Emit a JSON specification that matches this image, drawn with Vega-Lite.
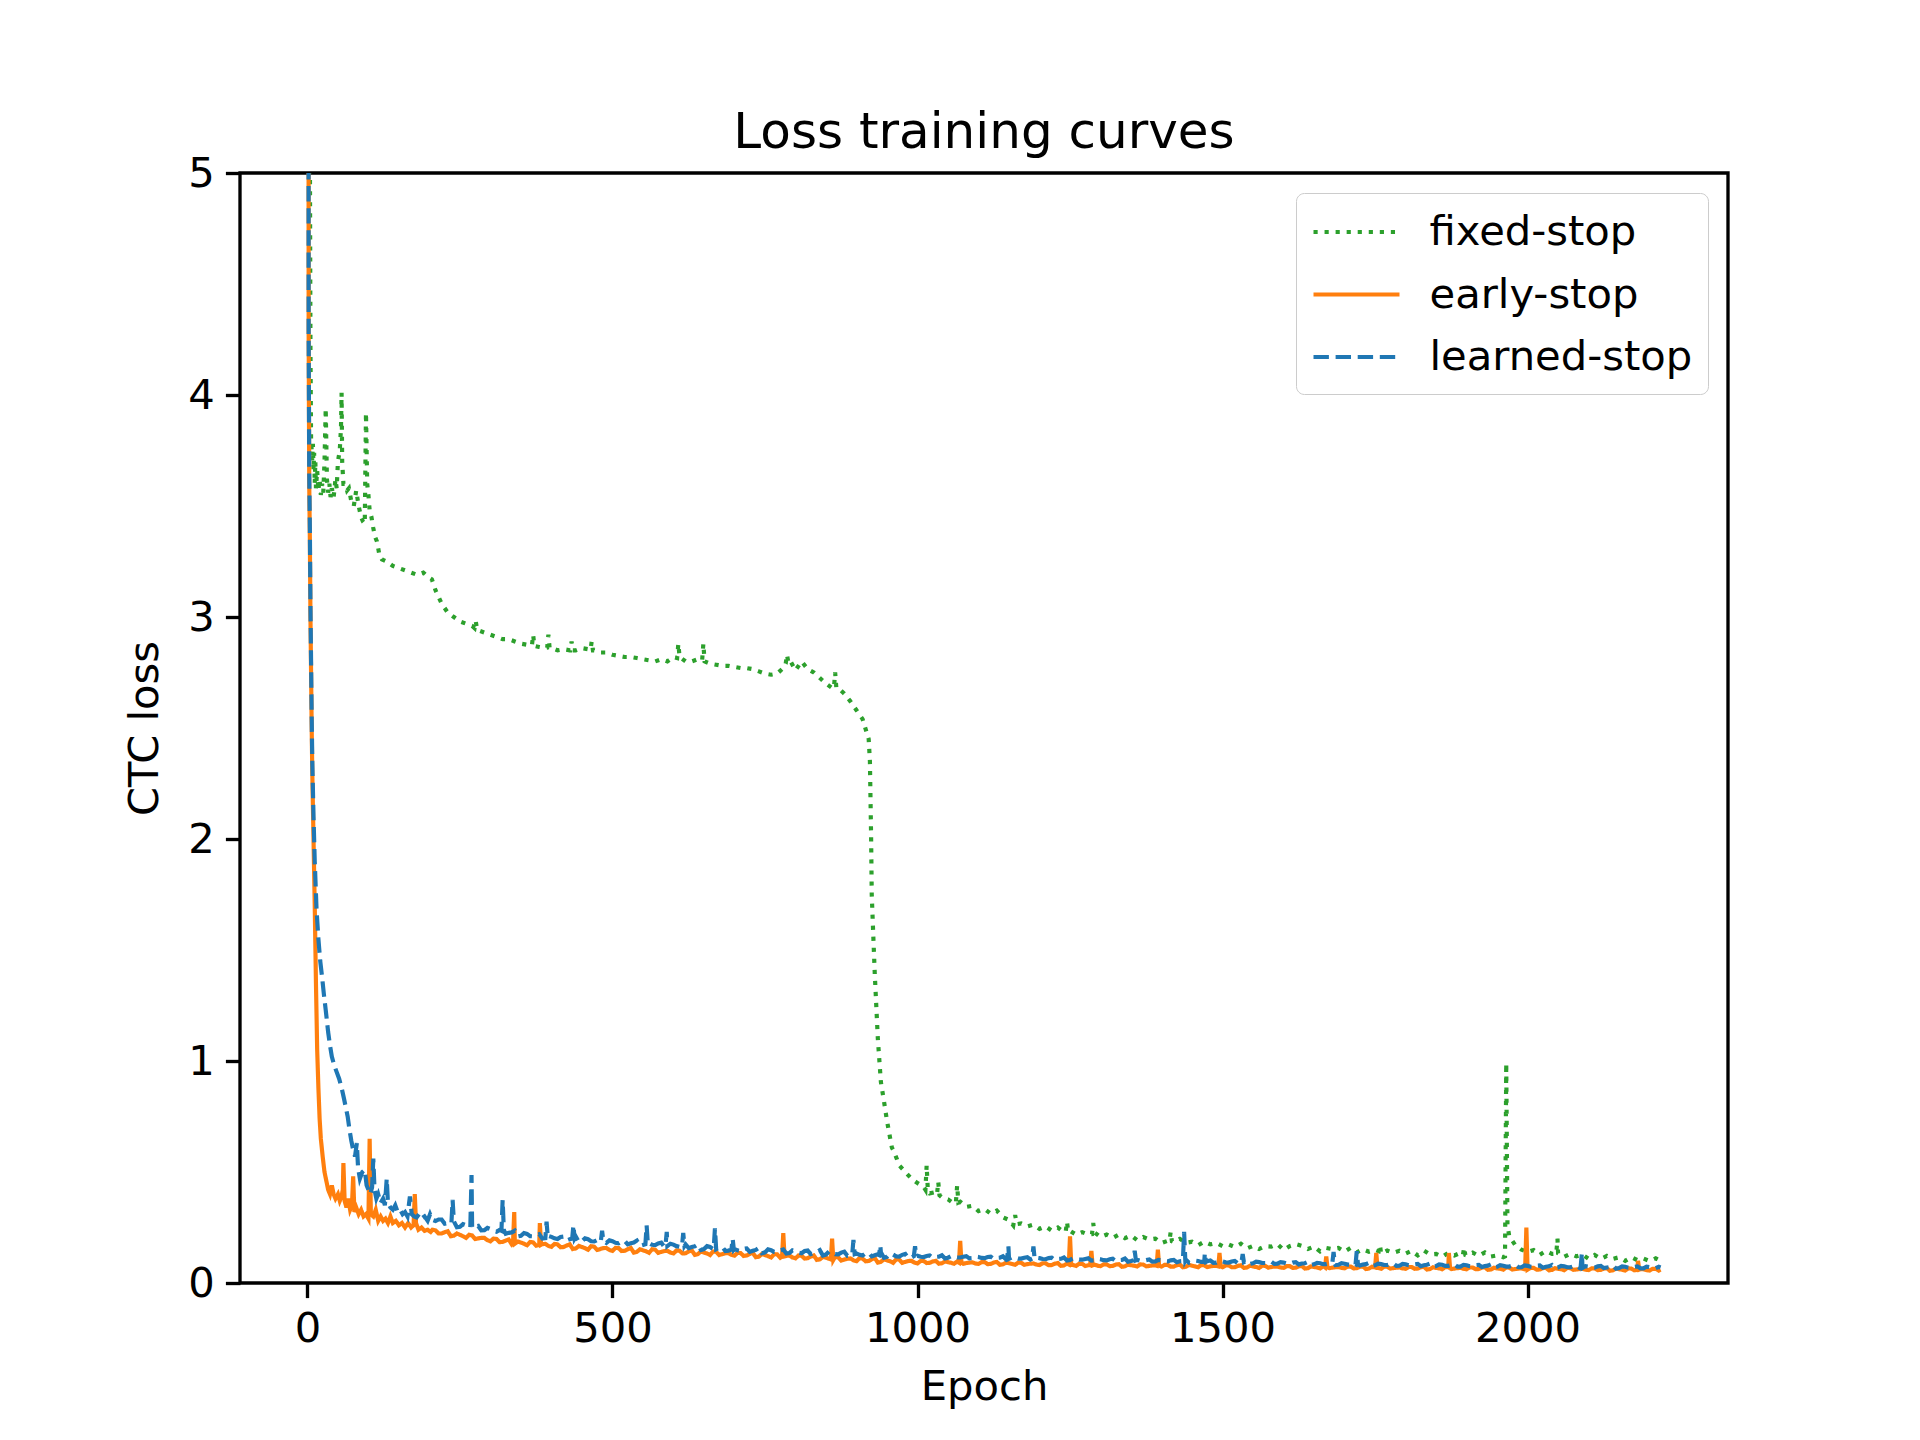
{
"$schema": "https://vega.github.io/schema/vega-lite/v6.json",
"width": 1488, "height": 1110,
"autosize": {"type": "none"},
"padding": {"left": 240, "top": 173, "right": 192, "bottom": 157},
"background": "white",
"title": {"text": "Loss training curves", "fontSize": 50, "font": "DejaVu Sans", "fontWeight": "normal", "color": "black", "anchor": "middle", "frame": "group", "offset": -45, "baseline": "alphabetic"},
"data": {"values": [
{"epoch":1,"fixed-stop":20,"early-stop":14,"learned-stop":14},
{"epoch":2,"fixed-stop":10,"early-stop":4.3,"learned-stop":4.3},
{"epoch":3,"fixed-stop":6.5,"early-stop":3.6,"learned-stop":3.65},
{"epoch":4,"fixed-stop":5.2,"early-stop":3.35,"learned-stop":3.4},
{"epoch":5,"fixed-stop":4.2,"early-stop":3.0,"learned-stop":3.05},
{"epoch":6,"fixed-stop":3.8,"early-stop":2.75,"learned-stop":2.8},
{"epoch":7,"fixed-stop":3.75,"early-stop":2.5,"learned-stop":2.55},
{"epoch":8,"fixed-stop":3.7,"early-stop":2.3,"learned-stop":2.35},
{"epoch":9,"fixed-stop":3.78},
{"epoch":10,"fixed-stop":3.66,"early-stop":2.0,"learned-stop":2.1},
{"epoch":11,"fixed-stop":3.74},
{"epoch":12,"fixed-stop":3.6,"early-stop":1.7,"learned-stop":1.9},
{"epoch":13,"fixed-stop":3.7},
{"epoch":14,"fixed-stop":3.58,"early-stop":1.35},
{"epoch":15,"learned-stop":1.68},
{"epoch":16,"fixed-stop":3.66,"early-stop":1.05},
{"epoch":18,"fixed-stop":3.57,"early-stop":0.88,"learned-stop":1.55},
{"epoch":20,"fixed-stop":3.62,"early-stop":0.74},
{"epoch":21,"learned-stop":1.45},
{"epoch":22,"fixed-stop":3.55,"early-stop":0.65},
{"epoch":24,"fixed-stop":3.6,"learned-stop":1.38},
{"epoch":25,"early-stop":0.57},
{"epoch":26,"fixed-stop":3.56},
{"epoch":27,"learned-stop":1.3},
{"epoch":28,"fixed-stop":3.7,"early-stop":0.5},
{"epoch":30,"fixed-stop":3.94,"learned-stop":1.23},
{"epoch":31,"early-stop":0.46},
{"epoch":32,"fixed-stop":3.62},
{"epoch":34,"fixed-stop":3.56,"early-stop":0.42,"learned-stop":1.13},
{"epoch":36,"fixed-stop":3.6},
{"epoch":37,"early-stop":0.4,"learned-stop":1.07},
{"epoch":38,"fixed-stop":3.54},
{"epoch":40,"fixed-stop":3.58,"early-stop":0.44,"learned-stop":1.02},
{"epoch":43,"fixed-stop":3.54,"early-stop":0.4},
{"epoch":44,"learned-stop":0.98},
{"epoch":46,"fixed-stop":3.62,"early-stop":0.38},
{"epoch":48,"fixed-stop":3.58,"learned-stop":0.95},
{"epoch":50,"fixed-stop":3.7,"early-stop":0.4},
{"epoch":52,"learned-stop":0.92},
{"epoch":53,"fixed-stop":3.75,"early-stop":0.37},
{"epoch":55,"fixed-stop":3.85},
{"epoch":56,"fixed-stop":4.01,"early-stop":0.39,"learned-stop":0.88},
{"epoch":57,"fixed-stop":3.7},
{"epoch":58,"early-stop":0.42},
{"epoch":59,"fixed-stop":3.6,"early-stop":0.54},
{"epoch":60,"learned-stop":0.83},
{"epoch":61,"early-stop":0.37},
{"epoch":62,"fixed-stop":3.6},
{"epoch":63,"learned-stop":0.79},
{"epoch":64,"early-stop":0.34},
{"epoch":65,"fixed-stop":3.57},
{"epoch":66,"learned-stop":0.75},
{"epoch":67,"early-stop":0.38},
{"epoch":68,"fixed-stop":3.58},
{"epoch":69,"learned-stop":0.69},
{"epoch":70,"early-stop":0.33},
{"epoch":72,"fixed-stop":3.52,"learned-stop":0.64},
{"epoch":73,"early-stop":0.35},
{"epoch":75,"early-stop":0.48,"learned-stop":0.6},
{"epoch":76,"fixed-stop":3.5},
{"epoch":77,"early-stop":0.32},
{"epoch":78,"learned-stop":0.57},
{"epoch":80,"fixed-stop":3.57,"early-stop":0.34},
{"epoch":81,"learned-stop":0.63},
{"epoch":83,"learned-stop":0.52},
{"epoch":84,"fixed-stop":3.5,"early-stop":0.31},
{"epoch":86,"learned-stop":0.47},
{"epoch":88,"fixed-stop":3.45,"early-stop":0.33},
{"epoch":90,"learned-stop":0.5},
{"epoch":91,"fixed-stop":3.43},
{"epoch":92,"early-stop":0.3},
{"epoch":94,"fixed-stop":3.42,"learned-stop":0.51},
{"epoch":96,"fixed-stop":3.92,"early-stop":0.31},
{"epoch":97,"learned-stop":0.44},
{"epoch":98,"fixed-stop":3.6},
{"epoch":100,"fixed-stop":3.55,"early-stop":0.29,"learned-stop":0.42},
{"epoch":102,"fixed-stop":3.48,"early-stop":0.65},
{"epoch":103,"learned-stop":0.4},
{"epoch":104,"early-stop":0.31},
{"epoch":105,"fixed-stop":3.45},
{"epoch":106,"learned-stop":0.43},
{"epoch":108,"fixed-stop":3.4,"early-stop":0.3,"learned-stop":0.56},
{"epoch":110,"learned-stop":0.42},
{"epoch":111,"fixed-stop":3.36},
{"epoch":112,"early-stop":0.33},
{"epoch":113,"learned-stop":0.38},
{"epoch":114,"fixed-stop":3.34},
{"epoch":116,"early-stop":0.28,"learned-stop":0.4},
{"epoch":118,"fixed-stop":3.28},
{"epoch":120,"early-stop":0.3,"learned-stop":0.36},
{"epoch":122,"fixed-stop":3.26},
{"epoch":124,"early-stop":0.28,"learned-stop":0.38},
{"epoch":127,"learned-stop":0.35},
{"epoch":128,"early-stop":0.29},
{"epoch":130,"fixed-stop":3.25,"learned-stop":0.47},
{"epoch":132,"early-stop":0.27,"learned-stop":0.36},
{"epoch":136,"early-stop":0.3,"learned-stop":0.34},
{"epoch":140,"fixed-stop":3.23,"early-stop":0.27,"learned-stop":0.33},
{"epoch":144,"learned-stop":0.35},
{"epoch":145,"early-stop":0.28},
{"epoch":148,"learned-stop":0.32},
{"epoch":150,"fixed-stop":3.22,"early-stop":0.26},
{"epoch":152,"learned-stop":0.33},
{"epoch":155,"early-stop":0.27},
{"epoch":156,"learned-stop":0.31},
{"epoch":160,"fixed-stop":3.21,"early-stop":0.25,"learned-stop":0.32},
{"epoch":164,"learned-stop":0.3},
{"epoch":165,"early-stop":0.27},
{"epoch":168,"learned-stop":0.39},
{"epoch":170,"fixed-stop":3.2,"early-stop":0.25},
{"epoch":171,"learned-stop":0.31},
{"epoch":174,"early-stop":0.26},
{"epoch":175,"learned-stop":0.3},
{"epoch":176,"early-stop":0.4},
{"epoch":178,"early-stop":0.27},
{"epoch":179,"learned-stop":0.295},
{"epoch":180,"fixed-stop":3.19},
{"epoch":182,"early-stop":0.24},
{"epoch":183,"learned-stop":0.31},
{"epoch":187,"early-stop":0.25,"learned-stop":0.29},
{"epoch":190,"fixed-stop":3.2},
{"epoch":192,"early-stop":0.235,"learned-stop":0.3},
{"epoch":197,"early-stop":0.24,"learned-stop":0.28},
{"epoch":198,"fixed-stop":3.18},
{"epoch":201,"learned-stop":0.31},
{"epoch":202,"early-stop":0.23},
{"epoch":204,"fixed-stop":3.17},
{"epoch":210,"fixed-stop":3.12,"early-stop":0.237,"learned-stop":0.279},
{"epoch":220,"fixed-stop":3.06,"early-stop":0.223,"learned-stop":0.286},
{"epoch":230,"fixed-stop":3.02,"early-stop":0.233,"learned-stop":0.27},
{"epoch":236,"learned-stop":0.268},
{"epoch":238,"learned-stop":0.374},
{"epoch":240,"fixed-stop":3.0,"early-stop":0.213,"learned-stop":0.278},
{"epoch":250,"fixed-stop":2.98,"early-stop":0.217,"learned-stop":0.253},
{"epoch":260,"fixed-stop":2.97,"early-stop":0.203,"learned-stop":0.26},
{"epoch":267,"learned-stop":0.25},
{"epoch":269,"learned-stop":0.486},
{"epoch":270,"fixed-stop":2.96,"early-stop":0.214,"learned-stop":0.248},
{"epoch":274,"fixed-stop":2.95},
{"epoch":276,"fixed-stop":2.98},
{"epoch":278,"fixed-stop":2.945},
{"epoch":280,"fixed-stop":2.94,"early-stop":0.201,"learned-stop":0.257},
{"epoch":290,"fixed-stop":2.93,"early-stop":0.203,"learned-stop":0.238},
{"epoch":300,"fixed-stop":2.92,"early-stop":0.188,"learned-stop":0.243},
{"epoch":310,"fixed-stop":2.91,"early-stop":0.198,"learned-stop":0.231},
{"epoch":318,"learned-stop":0.235},
{"epoch":320,"fixed-stop":2.9,"early-stop":0.185,"learned-stop":0.374},
{"epoch":322,"learned-stop":0.238},
{"epoch":330,"fixed-stop":2.9,"early-stop":0.196,"learned-stop":0.226},
{"epoch":337,"early-stop":0.18},
{"epoch":339,"early-stop":0.32},
{"epoch":340,"fixed-stop":2.89,"early-stop":0.177,"learned-stop":0.236},
{"epoch":350,"fixed-stop":2.88,"early-stop":0.182,"learned-stop":0.213},
{"epoch":360,"fixed-stop":2.875,"early-stop":0.17,"learned-stop":0.221},
{"epoch":368,"fixed-stop":2.872},
{"epoch":370,"fixed-stop":2.92,"early-stop":0.183,"learned-stop":0.21},
{"epoch":372,"fixed-stop":2.87},
{"epoch":380,"fixed-stop":2.865,"early-stop":0.172,"learned-stop":0.22},
{"epoch":381,"early-stop":0.27},
{"epoch":383,"early-stop":0.172},
{"epoch":390,"fixed-stop":2.86,"early-stop":0.176,"learned-stop":0.202},
{"epoch":392,"learned-stop":0.276},
{"epoch":393,"fixed-stop":2.862},
{"epoch":394,"learned-stop":0.205},
{"epoch":395,"fixed-stop":2.92},
{"epoch":397,"fixed-stop":2.86},
{"epoch":400,"fixed-stop":2.86,"early-stop":0.163,"learned-stop":0.208},
{"epoch":410,"fixed-stop":2.85,"early-stop":0.174,"learned-stop":0.198},
{"epoch":420,"fixed-stop":2.855,"early-stop":0.162,"learned-stop":0.209},
{"epoch":430,"fixed-stop":2.85,"early-stop":0.174,"learned-stop":0.197},
{"epoch":431,"fixed-stop":2.85},
{"epoch":433,"fixed-stop":2.89},
{"epoch":434,"learned-stop":0.2},
{"epoch":435,"fixed-stop":2.85},
{"epoch":436,"learned-stop":0.26},
{"epoch":438,"learned-stop":0.2},
{"epoch":440,"fixed-stop":2.85,"early-stop":0.156,"learned-stop":0.209},
{"epoch":450,"fixed-stop":2.86,"early-stop":0.162,"learned-stop":0.188},
{"epoch":460,"fixed-stop":2.855,"early-stop":0.15,"learned-stop":0.197},
{"epoch":464,"fixed-stop":2.852},
{"epoch":466,"fixed-stop":2.89},
{"epoch":468,"fixed-stop":2.85},
{"epoch":470,"fixed-stop":2.85,"early-stop":0.164,"learned-stop":0.187},
{"epoch":480,"fixed-stop":2.84,"early-stop":0.153,"learned-stop":0.198},
{"epoch":481,"learned-stop":0.19},
{"epoch":483,"learned-stop":0.235},
{"epoch":485,"learned-stop":0.19},
{"epoch":490,"fixed-stop":2.84,"early-stop":0.158,"learned-stop":0.181},
{"epoch":500,"fixed-stop":2.83,"early-stop":0.145,"learned-stop":0.188},
{"epoch":510,"fixed-stop":2.825,"early-stop":0.157,"learned-stop":0.179},
{"epoch":520,"fixed-stop":2.82,"early-stop":0.145,"learned-stop":0.19},
{"epoch":530,"fixed-stop":2.82,"early-stop":0.158,"learned-stop":0.179},
{"epoch":540,"fixed-stop":2.815,"early-stop":0.14,"learned-stop":0.191},
{"epoch":550,"fixed-stop":2.81,"early-stop":0.147,"learned-stop":0.171},
{"epoch":554,"learned-stop":0.175},
{"epoch":556,"learned-stop":0.26},
{"epoch":558,"learned-stop":0.176},
{"epoch":560,"fixed-stop":2.805,"early-stop":0.136,"learned-stop":0.18},
{"epoch":570,"fixed-stop":2.8,"early-stop":0.15,"learned-stop":0.171},
{"epoch":580,"fixed-stop":2.81,"early-stop":0.14,"learned-stop":0.182},
{"epoch":587,"learned-stop":0.172},
{"epoch":589,"learned-stop":0.23},
{"epoch":590,"fixed-stop":2.8,"early-stop":0.145,"learned-stop":0.166},
{"epoch":600,"fixed-stop":2.82,"early-stop":0.133,"learned-stop":0.173},
{"epoch":606,"fixed-stop":2.815},
{"epoch":608,"fixed-stop":2.88},
{"epoch":610,"fixed-stop":2.82,"early-stop":0.145,"learned-stop":0.163},
{"epoch":614,"learned-stop":0.165},
{"epoch":616,"learned-stop":0.225},
{"epoch":618,"learned-stop":0.166},
{"epoch":620,"fixed-stop":2.8,"early-stop":0.134,"learned-stop":0.174},
{"epoch":630,"fixed-stop":2.8,"early-stop":0.147,"learned-stop":0.162},
{"epoch":640,"fixed-stop":2.81,"early-stop":0.13,"learned-stop":0.174},
{"epoch":647,"fixed-stop":2.805},
{"epoch":649,"fixed-stop":2.88},
{"epoch":650,"early-stop":0.137,"learned-stop":0.153},
{"epoch":651,"fixed-stop":2.8},
{"epoch":660,"fixed-stop":2.79,"early-stop":0.126,"learned-stop":0.162},
{"epoch":666,"learned-stop":0.157},
{"epoch":668,"learned-stop":0.246},
{"epoch":670,"fixed-stop":2.785,"early-stop":0.14,"learned-stop":0.152},
{"epoch":680,"fixed-stop":2.78,"early-stop":0.13,"learned-stop":0.163},
{"epoch":690,"fixed-stop":2.78,"early-stop":0.135,"learned-stop":0.146},
{"epoch":695,"learned-stop":0.15},
{"epoch":697,"learned-stop":0.2},
{"epoch":699,"learned-stop":0.15},
{"epoch":700,"fixed-stop":2.775,"early-stop":0.123,"learned-stop":0.153},
{"epoch":710,"fixed-stop":2.77,"early-stop":0.135,"learned-stop":0.144},
{"epoch":720,"fixed-stop":2.77,"early-stop":0.124,"learned-stop":0.156},
{"epoch":730,"fixed-stop":2.765,"early-stop":0.136,"learned-stop":0.145},
{"epoch":740,"fixed-stop":2.755,"early-stop":0.119,"learned-stop":0.158},
{"epoch":750,"fixed-stop":2.745,"early-stop":0.126,"learned-stop":0.138},
{"epoch":760,"fixed-stop":2.74,"early-stop":0.115,"learned-stop":0.148},
{"epoch":770,"fixed-stop":2.745,"early-stop":0.129,"learned-stop":0.139},
{"epoch":778,"early-stop":0.12},
{"epoch":780,"fixed-stop":2.77,"early-stop":0.225,"learned-stop":0.151},
{"epoch":782,"early-stop":0.12},
{"epoch":784,"fixed-stop":2.79},
{"epoch":786,"fixed-stop":2.83},
{"epoch":788,"fixed-stop":2.8},
{"epoch":790,"fixed-stop":2.81,"early-stop":0.124,"learned-stop":0.135},
{"epoch":800,"fixed-stop":2.76,"early-stop":0.111,"learned-stop":0.143},
{"epoch":810,"fixed-stop":2.8,"early-stop":0.123,"learned-stop":0.134},
{"epoch":820,"fixed-stop":2.765,"early-stop":0.112,"learned-stop":0.146},
{"epoch":830,"fixed-stop":2.75,"early-stop":0.124,"learned-stop":0.135},
{"epoch":840,"fixed-stop":2.725,"early-stop":0.107,"learned-stop":0.148},
{"epoch":850,"fixed-stop":2.7,"early-stop":0.114,"learned-stop":0.128},
{"epoch":858,"early-stop":0.106},
{"epoch":860,"fixed-stop":2.68,"early-stop":0.2,"learned-stop":0.138},
{"epoch":862,"early-stop":0.104},
{"epoch":863,"fixed-stop":2.68},
{"epoch":865,"fixed-stop":2.75},
{"epoch":867,"fixed-stop":2.68},
{"epoch":870,"fixed-stop":2.68,"early-stop":0.116,"learned-stop":0.129},
{"epoch":880,"fixed-stop":2.655,"early-stop":0.106,"learned-stop":0.141},
{"epoch":890,"fixed-stop":2.62,"early-stop":0.111,"learned-stop":0.125},
{"epoch":893,"learned-stop":0.128},
{"epoch":895,"learned-stop":0.194},
{"epoch":897,"learned-stop":0.13},
{"epoch":900,"fixed-stop":2.58,"early-stop":0.098,"learned-stop":0.133},
{"epoch":910,"fixed-stop":2.54,"early-stop":0.11,"learned-stop":0.124},
{"epoch":920,"fixed-stop":2.45,"early-stop":0.099,"learned-stop":0.136},
{"epoch":922,"fixed-stop":2.35},
{"epoch":924,"fixed-stop":2.0},
{"epoch":925,"fixed-stop":1.75},
{"epoch":928,"fixed-stop":1.53},
{"epoch":930,"fixed-stop":1.39,"early-stop":0.112,"learned-stop":0.125},
{"epoch":935,"fixed-stop":1.1},
{"epoch":937,"learned-stop":0.126},
{"epoch":939,"learned-stop":0.17},
{"epoch":940,"fixed-stop":0.905,"early-stop":0.095,"learned-stop":0.138},
{"epoch":945,"fixed-stop":0.82},
{"epoch":950,"fixed-stop":0.73,"early-stop":0.102,"learned-stop":0.118},
{"epoch":958,"fixed-stop":0.61},
{"epoch":960,"fixed-stop":0.6,"early-stop":0.091,"learned-stop":0.128},
{"epoch":966,"fixed-stop":0.56},
{"epoch":970,"fixed-stop":0.53,"early-stop":0.105,"learned-stop":0.119},
{"epoch":980,"fixed-stop":0.5,"early-stop":0.095,"learned-stop":0.131},
{"epoch":990,"fixed-stop":0.47,"early-stop":0.1,"learned-stop":0.115},
{"epoch":994,"learned-stop":0.121},
{"epoch":996,"learned-stop":0.165},
{"epoch":998,"learned-stop":0.12},
{"epoch":1000,"fixed-stop":0.45,"early-stop":0.088,"learned-stop":0.123},
{"epoch":1010,"fixed-stop":0.433,"early-stop":0.099,"learned-stop":0.117},
{"epoch":1013,"fixed-stop":0.42},
{"epoch":1015,"fixed-stop":0.53},
{"epoch":1017,"fixed-stop":0.415},
{"epoch":1020,"fixed-stop":0.404,"early-stop":0.091,"learned-stop":0.124},
{"epoch":1030,"fixed-stop":0.41,"early-stop":0.1,"learned-stop":0.118},
{"epoch":1032,"fixed-stop":0.4},
{"epoch":1034,"fixed-stop":0.456},
{"epoch":1036,"fixed-stop":0.395},
{"epoch":1040,"fixed-stop":0.386,"early-stop":0.089,"learned-stop":0.125},
{"epoch":1050,"fixed-stop":0.377,"early-stop":0.094,"learned-stop":0.114},
{"epoch":1060,"fixed-stop":0.357,"early-stop":0.087,"learned-stop":0.119},
{"epoch":1063,"fixed-stop":0.365},
{"epoch":1065,"fixed-stop":0.44},
{"epoch":1067,"fixed-stop":0.362},
{"epoch":1068,"early-stop":0.092},
{"epoch":1070,"fixed-stop":0.366,"early-stop":0.19,"learned-stop":0.115},
{"epoch":1072,"early-stop":0.092},
{"epoch":1080,"fixed-stop":0.343,"early-stop":0.09,"learned-stop":0.121},
{"epoch":1090,"fixed-stop":0.348,"early-stop":0.093,"learned-stop":0.112},
{"epoch":1100,"fixed-stop":0.324,"early-stop":0.086,"learned-stop":0.117},
{"epoch":1110,"fixed-stop":0.333,"early-stop":0.094,"learned-stop":0.112},
{"epoch":1120,"fixed-stop":0.312,"early-stop":0.086,"learned-stop":0.119},
{"epoch":1130,"fixed-stop":0.326,"early-stop":0.095,"learned-stop":0.113},
{"epoch":1140,"fixed-stop":0.296,"early-stop":0.084,"learned-stop":0.12},
{"epoch":1147,"learned-stop":0.113},
{"epoch":1149,"learned-stop":0.165},
{"epoch":1150,"fixed-stop":0.284,"early-stop":0.089,"learned-stop":0.109},
{"epoch":1157,"fixed-stop":0.26},
{"epoch":1160,"fixed-stop":0.306,"early-stop":0.082,"learned-stop":0.114},
{"epoch":1163,"fixed-stop":0.265},
{"epoch":1170,"fixed-stop":0.268,"early-stop":0.091,"learned-stop":0.11},
{"epoch":1180,"fixed-stop":0.255,"early-stop":0.085,"learned-stop":0.116},
{"epoch":1188,"learned-stop":0.11},
{"epoch":1190,"fixed-stop":0.263,"early-stop":0.088,"learned-stop":0.165},
{"epoch":1192,"learned-stop":0.109},
{"epoch":1200,"fixed-stop":0.244,"early-stop":0.081,"learned-stop":0.112},
{"epoch":1210,"fixed-stop":0.255,"early-stop":0.089,"learned-stop":0.107},
{"epoch":1220,"fixed-stop":0.236,"early-stop":0.081,"learned-stop":0.114},
{"epoch":1230,"fixed-stop":0.25,"early-stop":0.09,"learned-stop":0.108},
{"epoch":1240,"fixed-stop":0.229,"early-stop":0.079,"learned-stop":0.115},
{"epoch":1243,"fixed-stop":0.232},
{"epoch":1245,"fixed-stop":0.276},
{"epoch":1247,"fixed-stop":0.232},
{"epoch":1248,"early-stop":0.083},
{"epoch":1250,"fixed-stop":0.235,"early-stop":0.21,"learned-stop":0.104},
{"epoch":1252,"early-stop":0.082},
{"epoch":1260,"fixed-stop":0.218,"early-stop":0.077,"learned-stop":0.109},
{"epoch":1270,"fixed-stop":0.229,"early-stop":0.086,"learned-stop":0.105},
{"epoch":1280,"fixed-stop":0.218,"early-stop":0.08,"learned-stop":0.111},
{"epoch":1283,"early-stop":0.08},
{"epoch":1285,"early-stop":0.145},
{"epoch":1286,"fixed-stop":0.22},
{"epoch":1287,"early-stop":0.08},
{"epoch":1288,"fixed-stop":0.27},
{"epoch":1290,"fixed-stop":0.228,"early-stop":0.083,"learned-stop":0.102},
{"epoch":1300,"fixed-stop":0.207,"early-stop":0.076,"learned-stop":0.107},
{"epoch":1310,"fixed-stop":0.218,"early-stop":0.084,"learned-stop":0.102},
{"epoch":1320,"fixed-stop":0.203,"early-stop":0.077,"learned-stop":0.109},
{"epoch":1330,"fixed-stop":0.218,"early-stop":0.085,"learned-stop":0.103},
{"epoch":1340,"fixed-stop":0.202,"early-stop":0.075,"learned-stop":0.11},
{"epoch":1350,"fixed-stop":0.214,"early-stop":0.08,"learned-stop":0.099},
{"epoch":1354,"learned-stop":0.102},
{"epoch":1356,"learned-stop":0.145},
{"epoch":1358,"learned-stop":0.102},
{"epoch":1360,"fixed-stop":0.193,"early-stop":0.074,"learned-stop":0.104},
{"epoch":1370,"fixed-stop":0.207,"early-stop":0.083,"learned-stop":0.1},
{"epoch":1380,"fixed-stop":0.196,"early-stop":0.077,"learned-stop":0.106},
{"epoch":1390,"fixed-stop":0.2,"early-stop":0.08,"learned-stop":0.097},
{"epoch":1392,"early-stop":0.078},
{"epoch":1394,"early-stop":0.15},
{"epoch":1396,"early-stop":0.078},
{"epoch":1400,"fixed-stop":0.18,"early-stop":0.074,"learned-stop":0.102},
{"epoch":1410,"fixed-stop":0.19,"early-stop":0.082,"learned-stop":0.097},
{"epoch":1413,"fixed-stop":0.19},
{"epoch":1415,"fixed-stop":0.23},
{"epoch":1417,"fixed-stop":0.188},
{"epoch":1420,"fixed-stop":0.184,"early-stop":0.074,"learned-stop":0.104},
{"epoch":1430,"fixed-stop":0.199,"early-stop":0.083,"learned-stop":0.098},
{"epoch":1435,"learned-stop":0.099},
{"epoch":1437,"learned-stop":0.23},
{"epoch":1439,"learned-stop":0.1},
{"epoch":1440,"fixed-stop":0.181,"early-stop":0.073,"learned-stop":0.105},
{"epoch":1450,"fixed-stop":0.186,"early-stop":0.078,"learned-stop":0.094},
{"epoch":1460,"fixed-stop":0.17,"early-stop":0.071,"learned-stop":0.099},
{"epoch":1470,"fixed-stop":0.186,"early-stop":0.08,"learned-stop":0.095},
{"epoch":1471,"learned-stop":0.135},
{"epoch":1473,"learned-stop":0.095},
{"epoch":1480,"fixed-stop":0.174,"early-stop":0.075,"learned-stop":0.101},
{"epoch":1490,"fixed-stop":0.18,"early-stop":0.077,"learned-stop":0.092},
{"epoch":1493,"early-stop":0.075},
{"epoch":1495,"early-stop":0.135},
{"epoch":1497,"early-stop":0.075},
{"epoch":1500,"fixed-stop":0.166,"early-stop":0.071,"learned-stop":0.097},
{"epoch":1510,"fixed-stop":0.174,"early-stop":0.079,"learned-stop":0.092},
{"epoch":1520,"fixed-stop":0.162,"early-stop":0.071,"learned-stop":0.099},
{"epoch":1530,"fixed-stop":0.177,"early-stop":0.08,"learned-stop":0.093},
{"epoch":1531,"learned-stop":0.093},
{"epoch":1533,"learned-stop":0.13},
{"epoch":1535,"learned-stop":0.094},
{"epoch":1540,"fixed-stop":0.156,"early-stop":0.07,"learned-stop":0.1},
{"epoch":1550,"fixed-stop":0.167,"early-stop":0.075,"learned-stop":0.089},
{"epoch":1560,"fixed-stop":0.153,"early-stop":0.068,"learned-stop":0.094},
{"epoch":1570,"fixed-stop":0.166,"early-stop":0.077,"learned-stop":0.09},
{"epoch":1580,"fixed-stop":0.164,"early-stop":0.072,"learned-stop":0.096},
{"epoch":1590,"fixed-stop":0.175,"early-stop":0.074,"learned-stop":0.087},
{"epoch":1600,"fixed-stop":0.149,"early-stop":0.068,"learned-stop":0.092},
{"epoch":1610,"fixed-stop":0.166,"early-stop":0.076,"learned-stop":0.087},
{"epoch":1620,"fixed-stop":0.175,"early-stop":0.069,"learned-stop":0.094},
{"epoch":1630,"fixed-stop":0.167,"early-stop":0.077,"learned-stop":0.088},
{"epoch":1640,"fixed-stop":0.153,"early-stop":0.067,"learned-stop":0.095},
{"epoch":1650,"fixed-stop":0.164,"early-stop":0.072,"learned-stop":0.084},
{"epoch":1660,"fixed-stop":0.142,"early-stop":0.066,"learned-stop":0.089},
{"epoch":1668,"early-stop":0.07},
{"epoch":1670,"fixed-stop":0.158,"early-stop":0.12,"learned-stop":0.085},
{"epoch":1672,"early-stop":0.07},
{"epoch":1680,"fixed-stop":0.153,"early-stop":0.069,"learned-stop":0.091},
{"epoch":1682,"learned-stop":0.14},
{"epoch":1684,"learned-stop":0.086},
{"epoch":1690,"fixed-stop":0.158,"early-stop":0.072,"learned-stop":0.082},
{"epoch":1700,"fixed-stop":0.141,"early-stop":0.066,"learned-stop":0.087},
{"epoch":1710,"fixed-stop":0.158,"early-stop":0.074,"learned-stop":0.082},
{"epoch":1718,"learned-stop":0.084},
{"epoch":1720,"fixed-stop":0.138,"early-stop":0.067,"learned-stop":0.143},
{"epoch":1722,"learned-stop":0.084},
{"epoch":1730,"fixed-stop":0.152,"early-stop":0.075,"learned-stop":0.083},
{"epoch":1740,"fixed-stop":0.141,"early-stop":0.065,"learned-stop":0.091},
{"epoch":1750,"fixed-stop":0.149,"early-stop":0.07,"learned-stop":0.08},
{"epoch":1752,"early-stop":0.135},
{"epoch":1754,"early-stop":0.068},
{"epoch":1756,"fixed-stop":0.143},
{"epoch":1758,"fixed-stop":0.17},
{"epoch":1760,"fixed-stop":0.132,"early-stop":0.064,"learned-stop":0.085},
{"epoch":1770,"fixed-stop":0.146,"early-stop":0.073,"learned-stop":0.081},
{"epoch":1780,"fixed-stop":0.136,"early-stop":0.067,"learned-stop":0.088},
{"epoch":1790,"fixed-stop":0.145,"early-stop":0.07,"learned-stop":0.078},
{"epoch":1800,"fixed-stop":0.132,"early-stop":0.064,"learned-stop":0.084},
{"epoch":1810,"fixed-stop":0.145,"early-stop":0.072,"learned-stop":0.079},
{"epoch":1820,"fixed-stop":0.124,"early-stop":0.065,"learned-stop":0.086},
{"epoch":1830,"fixed-stop":0.146,"early-stop":0.073,"learned-stop":0.08},
{"epoch":1840,"fixed-stop":0.129,"early-stop":0.063,"learned-stop":0.087},
{"epoch":1850,"fixed-stop":0.131,"early-stop":0.068,"learned-stop":0.076},
{"epoch":1860,"fixed-stop":0.118,"early-stop":0.062,"learned-stop":0.082},
{"epoch":1870,"fixed-stop":0.136,"early-stop":0.071,"learned-stop":0.077},
{"epoch":1871,"early-stop":0.135},
{"epoch":1873,"early-stop":0.066},
{"epoch":1880,"fixed-stop":0.124,"early-stop":0.065,"learned-stop":0.084},
{"epoch":1890,"fixed-stop":0.136,"early-stop":0.068,"learned-stop":0.074},
{"epoch":1894,"fixed-stop":0.126},
{"epoch":1896,"fixed-stop":0.16},
{"epoch":1898,"fixed-stop":0.126},
{"epoch":1900,"fixed-stop":0.124,"early-stop":0.062,"learned-stop":0.08},
{"epoch":1910,"fixed-stop":0.137,"early-stop":0.07,"learned-stop":0.075},
{"epoch":1920,"fixed-stop":0.122,"early-stop":0.063,"learned-stop":0.082},
{"epoch":1930,"fixed-stop":0.138,"early-stop":0.071,"learned-stop":0.076},
{"epoch":1940,"fixed-stop":0.119,"early-stop":0.061,"learned-stop":0.084},
{"epoch":1950,"fixed-stop":0.124,"early-stop":0.066,"learned-stop":0.073},
{"epoch":1960,"fixed-stop":0.116,"early-stop":0.06,"learned-stop":0.078},
{"epoch":1963,"fixed-stop":0.12},
{"epoch":1965,"fixed-stop":0.99},
{"epoch":1967,"fixed-stop":0.26},
{"epoch":1970,"fixed-stop":0.21,"early-stop":0.069,"learned-stop":0.074},
{"epoch":1980,"fixed-stop":0.17,"early-stop":0.063,"learned-stop":0.081},
{"epoch":1990,"fixed-stop":0.15,"early-stop":0.066,"learned-stop":0.071},
{"epoch":1996,"early-stop":0.064},
{"epoch":1998,"early-stop":0.25},
{"epoch":2000,"fixed-stop":0.14,"early-stop":0.06,"learned-stop":0.077},
{"epoch":2010,"fixed-stop":0.148,"early-stop":0.068,"learned-stop":0.072},
{"epoch":2020,"fixed-stop":0.127,"early-stop":0.061,"learned-stop":0.079},
{"epoch":2030,"fixed-stop":0.144,"early-stop":0.069,"learned-stop":0.073},
{"epoch":2040,"fixed-stop":0.131,"early-stop":0.059,"learned-stop":0.081},
{"epoch":2047,"fixed-stop":0.132},
{"epoch":2049,"fixed-stop":0.2},
{"epoch":2050,"fixed-stop":0.134,"early-stop":0.064,"learned-stop":0.07},
{"epoch":2060,"fixed-stop":0.118,"early-stop":0.058,"learned-stop":0.075},
{"epoch":2070,"fixed-stop":0.131,"early-stop":0.067,"learned-stop":0.071},
{"epoch":2080,"fixed-stop":0.12,"early-stop":0.061,"learned-stop":0.078},
{"epoch":2087,"learned-stop":0.072},
{"epoch":2089,"learned-stop":0.135},
{"epoch":2090,"fixed-stop":0.128,"early-stop":0.064,"learned-stop":0.068},
{"epoch":2100,"fixed-stop":0.109,"early-stop":0.058,"learned-stop":0.074},
{"epoch":2110,"fixed-stop":0.126,"early-stop":0.066,"learned-stop":0.069},
{"epoch":2120,"fixed-stop":0.109,"early-stop":0.059,"learned-stop":0.077},
{"epoch":2130,"fixed-stop":0.122,"early-stop":0.067,"learned-stop":0.07},
{"epoch":2140,"fixed-stop":0.109,"early-stop":0.057,"learned-stop":0.078},
{"epoch":2150,"fixed-stop":0.116,"early-stop":0.062,"learned-stop":0.067},
{"epoch":2160,"fixed-stop":0.1,"early-stop":0.056,"learned-stop":0.073},
{"epoch":2170,"fixed-stop":0.116,"early-stop":0.065,"learned-stop":0.069},
{"epoch":2180,"fixed-stop":0.103,"early-stop":0.059,"learned-stop":0.075},
{"epoch":2181,"early-stop":0.1},
{"epoch":2183,"early-stop":0.06},
{"epoch":2190,"fixed-stop":0.11,"early-stop":0.062,"learned-stop":0.066},
{"epoch":2200,"fixed-stop":0.099,"early-stop":0.056,"learned-stop":0.072},
{"epoch":2210,"fixed-stop":0.111,"early-stop":0.064,"learned-stop":0.067},
{"epoch":2218,"fixed-stop":0.1,"early-stop":0.06,"learned-stop":0.07},
{"epoch":205,"early-stop":0.24,"learned-stop":0.284},
{"epoch":215,"early-stop":0.223,"learned-stop":0.286},
{"epoch":225,"early-stop":0.229,"learned-stop":0.267},
{"epoch":235,"early-stop":0.211,"learned-stop":0.271},
{"epoch":245,"early-stop":0.223,"learned-stop":0.251},
{"epoch":255,"early-stop":0.211,"learned-stop":0.265},
{"epoch":265,"early-stop":0.217,"learned-stop":0.25},
{"epoch":275,"early-stop":0.198,"learned-stop":0.254},
{"epoch":285,"early-stop":0.203,"learned-stop":0.237},
{"epoch":295,"early-stop":0.193,"learned-stop":0.248},
{"epoch":305,"early-stop":0.2,"learned-stop":0.235},
{"epoch":315,"early-stop":0.184,"learned-stop":0.239},
{"epoch":325,"early-stop":0.191,"learned-stop":0.222},
{"epoch":335,"early-stop":0.174,"learned-stop":0.228},
{"epoch":345,"early-stop":0.187,"learned-stop":0.21},
{"epoch":355,"early-stop":0.177,"learned-stop":0.225},
{"epoch":365,"early-stop":0.185,"learned-stop":0.211},
{"epoch":375,"early-stop":0.168,"learned-stop":0.216},
{"epoch":385,"early-stop":0.175,"learned-stop":0.2},
{"epoch":395,"early-stop":0.167,"learned-stop":0.212},
{"epoch":405,"early-stop":0.176,"learned-stop":0.201},
{"epoch":415,"early-stop":0.161,"learned-stop":0.207},
{"epoch":425,"early-stop":0.169,"learned-stop":0.192},
{"epoch":435,"early-stop":0.153},
{"epoch":445,"early-stop":0.167,"learned-stop":0.184},
{"epoch":455,"early-stop":0.157,"learned-stop":0.201},
{"epoch":465,"early-stop":0.166,"learned-stop":0.188},
{"epoch":475,"early-stop":0.149,"learned-stop":0.194},
{"epoch":485,"early-stop":0.157},
{"epoch":495,"early-stop":0.149,"learned-stop":0.192},
{"epoch":505,"early-stop":0.158,"learned-stop":0.181},
{"epoch":515,"early-stop":0.144,"learned-stop":0.188},
{"epoch":525,"early-stop":0.152,"learned-stop":0.174},
{"epoch":535,"early-stop":0.137,"learned-stop":0.182},
{"epoch":545,"early-stop":0.152,"learned-stop":0.167},
{"epoch":555,"early-stop":0.143},
{"epoch":565,"early-stop":0.152,"learned-stop":0.172},
{"epoch":575,"early-stop":0.136,"learned-stop":0.178},
{"epoch":585,"early-stop":0.144,"learned-stop":0.163},
{"epoch":595,"early-stop":0.137,"learned-stop":0.177},
{"epoch":605,"early-stop":0.147,"learned-stop":0.166},
{"epoch":615,"early-stop":0.133},
{"epoch":625,"early-stop":0.142,"learned-stop":0.157},
{"epoch":635,"early-stop":0.127,"learned-stop":0.165},
{"epoch":645,"early-stop":0.142,"learned-stop":0.149},
{"epoch":655,"early-stop":0.133,"learned-stop":0.166},
{"epoch":665,"early-stop":0.142,"learned-stop":0.153},
{"epoch":675,"early-stop":0.126,"learned-stop":0.159},
{"epoch":685,"early-stop":0.134,"learned-stop":0.144},
{"epoch":695,"early-stop":0.127},
{"epoch":705,"early-stop":0.136,"learned-stop":0.147},
{"epoch":715,"early-stop":0.122,"learned-stop":0.154},
{"epoch":725,"early-stop":0.131,"learned-stop":0.14},
{"epoch":735,"early-stop":0.116,"learned-stop":0.149},
{"epoch":745,"early-stop":0.131,"learned-stop":0.134},
{"epoch":755,"early-stop":0.121,"learned-stop":0.152},
{"epoch":765,"early-stop":0.13,"learned-stop":0.14},
{"epoch":775,"early-stop":0.114,"learned-stop":0.147},
{"epoch":785,"early-stop":0.122,"learned-stop":0.133},
{"epoch":795,"early-stop":0.115,"learned-stop":0.147},
{"epoch":805,"early-stop":0.124,"learned-stop":0.137},
{"epoch":815,"early-stop":0.11,"learned-stop":0.144},
{"epoch":825,"early-stop":0.119,"learned-stop":0.13},
{"epoch":835,"early-stop":0.104,"learned-stop":0.139},
{"epoch":845,"early-stop":0.118,"learned-stop":0.124},
{"epoch":855,"early-stop":0.109,"learned-stop":0.142},
{"epoch":865,"early-stop":0.118,"learned-stop":0.13},
{"epoch":875,"early-stop":0.101,"learned-stop":0.137},
{"epoch":885,"early-stop":0.109,"learned-stop":0.123},
{"epoch":895,"early-stop":0.102},
{"epoch":905,"early-stop":0.112,"learned-stop":0.127},
{"epoch":915,"early-stop":0.098,"learned-stop":0.134},
{"epoch":925,"early-stop":0.107,"learned-stop":0.12},
{"epoch":935,"early-stop":0.092,"learned-stop":0.129},
{"epoch":945,"early-stop":0.107,"learned-stop":0.114},
{"epoch":955,"early-stop":0.098,"learned-stop":0.132},
{"epoch":965,"early-stop":0.107,"learned-stop":0.12},
{"epoch":975,"early-stop":0.091,"learned-stop":0.127},
{"epoch":985,"early-stop":0.099,"learned-stop":0.113},
{"epoch":995,"early-stop":0.092},
{"epoch":1005,"early-stop":0.099,"learned-stop":0.118},
{"epoch":1015,"early-stop":0.09,"learned-stop":0.122},
{"epoch":1025,"early-stop":0.097,"learned-stop":0.114},
{"epoch":1035,"early-stop":0.087,"learned-stop":0.119},
{"epoch":1045,"early-stop":0.097,"learned-stop":0.111},
{"epoch":1055,"early-stop":0.091,"learned-stop":0.121},
{"epoch":1065,"early-stop":0.097,"learned-stop":0.115},
{"epoch":1075,"early-stop":0.087,"learned-stop":0.118},
{"epoch":1085,"early-stop":0.092,"learned-stop":0.111},
{"epoch":1095,"early-stop":0.088,"learned-stop":0.119},
{"epoch":1105,"early-stop":0.094,"learned-stop":0.113},
{"epoch":1115,"early-stop":0.085,"learned-stop":0.117},
{"epoch":1125,"early-stop":0.092,"learned-stop":0.109},
{"epoch":1135,"early-stop":0.082,"learned-stop":0.114},
{"epoch":1145,"early-stop":0.092,"learned-stop":0.106},
{"epoch":1155,"early-stop":0.086,"learned-stop":0.116},
{"epoch":1165,"early-stop":0.092,"learned-stop":0.11},
{"epoch":1175,"early-stop":0.082,"learned-stop":0.114},
{"epoch":1185,"early-stop":0.087,"learned-stop":0.106},
{"epoch":1195,"early-stop":0.083,"learned-stop":0.114},
{"epoch":1205,"early-stop":0.089,"learned-stop":0.108},
{"epoch":1215,"early-stop":0.08,"learned-stop":0.112},
{"epoch":1225,"early-stop":0.087,"learned-stop":0.104},
{"epoch":1235,"early-stop":0.077,"learned-stop":0.109},
{"epoch":1245,"early-stop":0.087,"learned-stop":0.101},
{"epoch":1255,"early-stop":0.081,"learned-stop":0.111},
{"epoch":1265,"early-stop":0.087,"learned-stop":0.105},
{"epoch":1275,"early-stop":0.077,"learned-stop":0.108},
{"epoch":1285,"learned-stop":0.101},
{"epoch":1295,"early-stop":0.078,"learned-stop":0.109},
{"epoch":1305,"early-stop":0.084,"learned-stop":0.103},
{"epoch":1315,"early-stop":0.076,"learned-stop":0.107},
{"epoch":1325,"early-stop":0.083,"learned-stop":0.099},
{"epoch":1335,"early-stop":0.073,"learned-stop":0.104},
{"epoch":1345,"early-stop":0.083,"learned-stop":0.096},
{"epoch":1355,"early-stop":0.078},
{"epoch":1365,"early-stop":0.084,"learned-stop":0.1},
{"epoch":1375,"early-stop":0.075,"learned-stop":0.103},
{"epoch":1385,"early-stop":0.079,"learned-stop":0.096},
{"epoch":1395,"learned-stop":0.104},
{"epoch":1405,"early-stop":0.082,"learned-stop":0.098},
{"epoch":1415,"early-stop":0.074,"learned-stop":0.102},
{"epoch":1425,"early-stop":0.08,"learned-stop":0.094},
{"epoch":1435,"early-stop":0.071},
{"epoch":1445,"early-stop":0.081,"learned-stop":0.091},
{"epoch":1455,"early-stop":0.075,"learned-stop":0.101},
{"epoch":1465,"early-stop":0.081,"learned-stop":0.095},
{"epoch":1475,"early-stop":0.072,"learned-stop":0.098},
{"epoch":1485,"early-stop":0.077,"learned-stop":0.091},
{"epoch":1495,"learned-stop":0.099},
{"epoch":1505,"early-stop":0.079,"learned-stop":0.093},
{"epoch":1515,"early-stop":0.071,"learned-stop":0.097},
{"epoch":1525,"early-stop":0.077,"learned-stop":0.089},
{"epoch":1535,"early-stop":0.068},
{"epoch":1545,"early-stop":0.078,"learned-stop":0.086},
{"epoch":1555,"early-stop":0.072,"learned-stop":0.096},
{"epoch":1565,"early-stop":0.078,"learned-stop":0.09},
{"epoch":1575,"early-stop":0.069,"learned-stop":0.093},
{"epoch":1585,"early-stop":0.074,"learned-stop":0.086},
{"epoch":1595,"early-stop":0.07,"learned-stop":0.094},
{"epoch":1605,"early-stop":0.076,"learned-stop":0.088},
{"epoch":1615,"early-stop":0.068,"learned-stop":0.092},
{"epoch":1625,"early-stop":0.075,"learned-stop":0.084},
{"epoch":1635,"early-stop":0.065,"learned-stop":0.089},
{"epoch":1645,"early-stop":0.075,"learned-stop":0.081},
{"epoch":1655,"early-stop":0.07,"learned-stop":0.091},
{"epoch":1665,"early-stop":0.076,"learned-stop":0.085},
{"epoch":1675,"early-stop":0.067,"learned-stop":0.088},
{"epoch":1685,"early-stop":0.071,"learned-stop":0.081},
{"epoch":1695,"early-stop":0.068,"learned-stop":0.089},
{"epoch":1705,"early-stop":0.074,"learned-stop":0.083},
{"epoch":1715,"early-stop":0.066,"learned-stop":0.088},
{"epoch":1725,"early-stop":0.073,"learned-stop":0.079},
{"epoch":1735,"early-stop":0.063,"learned-stop":0.085},
{"epoch":1745,"early-stop":0.073,"learned-stop":0.077},
{"epoch":1755,"early-stop":0.068,"learned-stop":0.087},
{"epoch":1765,"early-stop":0.074,"learned-stop":0.081},
{"epoch":1775,"early-stop":0.065,"learned-stop":0.085},
{"epoch":1785,"early-stop":0.069,"learned-stop":0.077},
{"epoch":1795,"early-stop":0.066,"learned-stop":0.086},
{"epoch":1805,"early-stop":0.072,"learned-stop":0.08},
{"epoch":1815,"early-stop":0.064,"learned-stop":0.084},
{"epoch":1825,"early-stop":0.071,"learned-stop":0.076},
{"epoch":1835,"early-stop":0.061,"learned-stop":0.082},
{"epoch":1845,"early-stop":0.071,"learned-stop":0.073},
{"epoch":1855,"early-stop":0.066,"learned-stop":0.084},
{"epoch":1865,"early-stop":0.072,"learned-stop":0.077},
{"epoch":1875,"early-stop":0.063,"learned-stop":0.081},
{"epoch":1885,"early-stop":0.067,"learned-stop":0.074},
{"epoch":1895,"early-stop":0.064,"learned-stop":0.082},
{"epoch":1905,"early-stop":0.07,"learned-stop":0.076},
{"epoch":1915,"early-stop":0.062,"learned-stop":0.081},
{"epoch":1925,"early-stop":0.069,"learned-stop":0.072},
{"epoch":1935,"early-stop":0.059,"learned-stop":0.078},
{"epoch":1945,"early-stop":0.069,"learned-stop":0.07},
{"epoch":1955,"early-stop":0.064,"learned-stop":0.08},
{"epoch":1965,"early-stop":0.07,"learned-stop":0.074},
{"epoch":1975,"early-stop":0.061,"learned-stop":0.078},
{"epoch":1985,"early-stop":0.065,"learned-stop":0.071},
{"epoch":1995,"early-stop":0.062,"learned-stop":0.079},
{"epoch":2005,"early-stop":0.068,"learned-stop":0.073},
{"epoch":2015,"early-stop":0.06,"learned-stop":0.078},
{"epoch":2025,"early-stop":0.067,"learned-stop":0.069},
{"epoch":2035,"early-stop":0.057,"learned-stop":0.075},
{"epoch":2045,"early-stop":0.067,"learned-stop":0.067},
{"epoch":2055,"early-stop":0.062,"learned-stop":0.077},
{"epoch":2065,"early-stop":0.068,"learned-stop":0.071},
{"epoch":2075,"early-stop":0.059,"learned-stop":0.075},
{"epoch":2085,"early-stop":0.063,"learned-stop":0.068},
{"epoch":2095,"early-stop":0.06,"learned-stop":0.076},
{"epoch":2105,"early-stop":0.066,"learned-stop":0.07},
{"epoch":2115,"early-stop":0.058,"learned-stop":0.075},
{"epoch":2125,"early-stop":0.065,"learned-stop":0.067},
{"epoch":2135,"early-stop":0.055,"learned-stop":0.072},
{"epoch":2145,"early-stop":0.065,"learned-stop":0.064},
{"epoch":2155,"early-stop":0.06,"learned-stop":0.075},
{"epoch":2165,"early-stop":0.066,"learned-stop":0.069},
{"epoch":2175,"early-stop":0.057,"learned-stop":0.073},
{"epoch":2185,"early-stop":0.062,"learned-stop":0.066},
{"epoch":2195,"early-stop":0.058,"learned-stop":0.074},
{"epoch":2205,"early-stop":0.064,"learned-stop":0.068},
{"epoch":2215,"early-stop":0.056,"learned-stop":0.073}
]},
"transform": [
  {"fold": ["fixed-stop", "early-stop", "learned-stop"], "as": ["series", "loss"]},
  {"filter": "isValid(datum.loss)"}
],
"encoding": {
  "x": {"field": "epoch", "type": "quantitative", "scale": {"domain": [-110.5, 2328.5], "nice": false, "zero": false}, "axis": {"values": [0, 500, 1000, 1500, 2000], "format": "d", "title": "Epoch", "titlePadding": 16}},
  "y": {"field": "loss", "type": "quantitative", "scale": {"domain": [0, 5], "nice": false}, "axis": {"values": [0, 1, 2, 3, 4, 5], "format": "d", "title": "CTC loss", "titlePadding": 21}},
  "color": {"field": "series", "type": "nominal", "scale": {"domain": ["fixed-stop", "early-stop", "learned-stop"], "range": ["#2ca02c", "#ff7f0e", "#1f77b4"]}, "legend": {"title": null}},
  "strokeDash": {"field": "series", "type": "nominal", "scale": {"domain": ["fixed-stop", "early-stop", "learned-stop"], "range": [[4.17, 6.88], [1, 0], [15.4, 6.7]]}, "legend": {"title": null}}
},
"layer": [
  {"transform": [{"filter": "datum.series === 'fixed-stop'"}], "mark": {"type": "line", "strokeWidth": 4.17, "clip": true}},
  {"transform": [{"filter": "datum.series === 'early-stop'"}], "mark": {"type": "line", "strokeWidth": 4.17, "clip": true}},
  {"transform": [{"filter": "datum.series === 'learned-stop'"}], "mark": {"type": "line", "strokeWidth": 4.17, "clip": true}}
],
"config": {
  "font": "DejaVu Sans",
  "view": {"stroke": "black", "strokeWidth": 3.33},
  "axis": {"labelFont": "DejaVu Sans", "titleFont": "DejaVu Sans", "labelFontSize": 41.7, "titleFontSize": 41.7, "titleFontWeight": "normal", "labelColor": "black", "titleColor": "black", "tickColor": "black", "tickWidth": 3.33, "tickSize": 14.6, "labelPadding": 11, "domain": false, "grid": false},
  "legend": {"orient": "top-right", "offset": 20, "fillColor": "white", "strokeColor": "#cccccc", "cornerRadius": 8, "padding": 15, "labelFont": "DejaVu Sans", "labelFontSize": 41.7, "labelColor": "black", "symbolType": "M-1,0H3", "symbolStrokeWidth": 4.17, "symbolSize": 1849, "labelOffset": 70.5, "rowPadding": 16.5, "labelLimit": 0}
}
}
